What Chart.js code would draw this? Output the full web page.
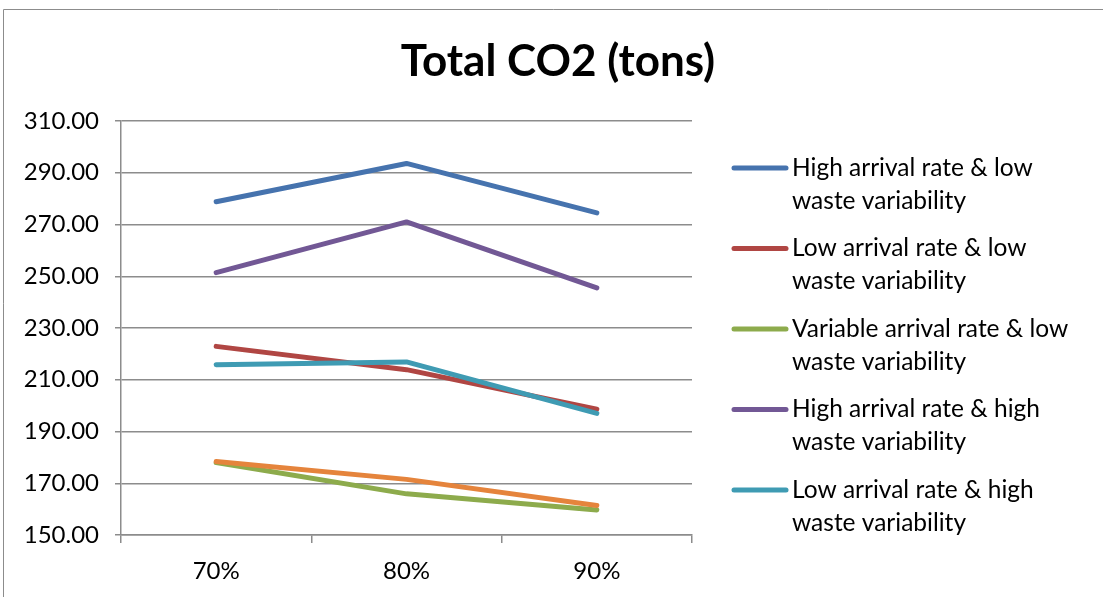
<!DOCTYPE html>
<html>
<head>
<meta charset="utf-8">
<script src="https://cdn.jsdelivr.net/npm/chart.js@4.4.1/dist/chart.umd.min.js"></script>
<style>
  html, body { margin: 0; padding: 0; background: #fff; overflow: hidden; }
  #wrap { position: relative; width: 1103px; height: 597px; }
</style>
</head>
<body>
<div id="wrap"><canvas id="c" width="1103" height="597"></canvas></div>
<script>
// ---- data ----
const chartTitle = 'Total CO2 (tons)';
const categories = ['70%', '80%', '90%'];
const seriesNames = [
  'High arrival rate & low waste variability',
  'Low arrival rate & low waste variability',
  'Variable arrival rate & low waste variability',
  'High arrival rate & high waste variability',
  'Low arrival rate & high waste variability',
  'Variable arrival rate & high waste variability'
];
const highArrivalLowVar = [278.8, 293.6, 274.5];
const lowArrivalLowVar = [222.9, 213.9, 198.6];
const variableArrivalLowVar = [178.0, 165.9, 159.7];
const highArrivalHighVar = [251.4, 271.0, 245.5];
const lowArrivalHighVar = [215.8, 216.9, 197.0];
const variableArrivalHighVar = [178.4, 171.5, 161.4];
const yMin = 150, yMax = 310, yStep = 20;

// ---- styling ----
const FONT = 'Lato, "Open Sans", sans-serif';
const colors = ['#4673AE', '#B04643', '#8DAB4C', '#725895', '#3F9BB3', '#E5843C'];
const seriesValues = [highArrivalLowVar, lowArrivalLowVar, variableArrivalLowVar,
                      highArrivalHighVar, lowArrivalHighVar, variableArrivalHighVar];
const gridColor = '#8c8c8c';

const datasets = seriesValues.map((vals, i) => ({
  label: seriesNames[i],
  data: vals,
  borderColor: colors[i],
  backgroundColor: colors[i],
  borderWidth: 5,
  borderCapStyle: 'round',
  borderJoinStyle: 'round',
  pointRadius: 0,
  pointHoverRadius: 0,
  tension: 0,
  order: seriesValues.length - i   // later series paint over earlier ones
}));

function wrapWords(ctx, text, maxWidth) {
  const words = text.split(' ');
  const lines = [];
  let line = '';
  for (const w of words) {
    const test = line ? line + ' ' + w : w;
    if (ctx.measureText(test).width > maxWidth && line) {
      lines.push(line);
      line = w;
    } else {
      line = test;
    }
  }
  if (line) lines.push(line);
  return lines;
}

// frame, title and side legend
const decorations = {
  id: 'decorations',
  beforeDraw(chart) {
    const ctx = chart.ctx;
    ctx.save();
    ctx.fillStyle = '#ffffff';
    ctx.fillRect(0, 0, chart.width, chart.height);
    ctx.strokeStyle = '#8c8c8c';
    ctx.lineWidth = 1;
    ctx.beginPath();
    ctx.moveTo(3.5, chart.height);
    ctx.lineTo(3.5, 9.5);
    ctx.lineTo(chart.width, 9.5);
    ctx.stroke();
    ctx.restore();
  },
  afterDraw(chart) {
    const ctx = chart.ctx;
    ctx.save();
    // title
    ctx.fillStyle = '#000';
    ctx.font = 'bold 44px ' + FONT;
    ctx.textAlign = 'center';
    ctx.textBaseline = 'middle';
    ctx.fillText(chartTitle, 558, 62);

    // legend
    ctx.font = '24.5px ' + FONT;
    ctx.textAlign = 'left';
    const lineH = 33, itemH = 80.5;
    let y = 168;
    chart.data.datasets.forEach((ds) => {
      const lines = wrapWords(ctx, ds.label, 290);
      const lastY = y + (lines.length - 1) * lineH;
      if (lastY + 12 > chart.height) return;
      ctx.strokeStyle = ds.borderColor;
      ctx.lineWidth = 5;
      ctx.lineCap = 'round';
      ctx.beginPath();
      ctx.moveTo(734, y);
      ctx.lineTo(786, y);
      ctx.stroke();
      ctx.fillStyle = '#000';
      lines.forEach((ln, k) => ctx.fillText(ln, 792, y + k * lineH));
      y += itemH;
    });
    ctx.restore();
  }
};

new Chart(document.getElementById('c'), {
  type: 'line',
  data: { labels: categories, datasets },
  options: {
    responsive: false,
    animation: false,
    devicePixelRatio: 1,
    layout: { padding: { left: 0, right: 411, top: 121, bottom: 0 } },
    plugins: { legend: { display: false }, title: { display: false }, tooltip: { enabled: false } },
    scales: {
      x: {
        type: 'category',
        offset: true,
        grid: { offset: true, drawOnChartArea: false, drawTicks: true, tickLength: 8, color: gridColor, lineWidth: 1.5 },
        border: { display: true, color: gridColor, width: 1.5 },
        ticks: { color: '#000', font: { family: FONT, size: 24 }, padding: 14 },
        afterFit(s) { s.height = 62; }
      },
      y: {
        min: yMin,
        max: yMax,
        ticks: {
          stepSize: yStep,
          color: '#000',
          font: { family: FONT, size: 24 },
          padding: 16,
          callback: (v) => Number(v).toFixed(2)
        },
        grid: { color: gridColor, lineWidth: 1.5, tickLength: 6 },
        border: { display: true, color: gridColor, width: 1.5 },
        afterFit(s) { s.width = 121; }
      }
    }
  },
  plugins: [decorations]
});
</script>
</body>
</html>
